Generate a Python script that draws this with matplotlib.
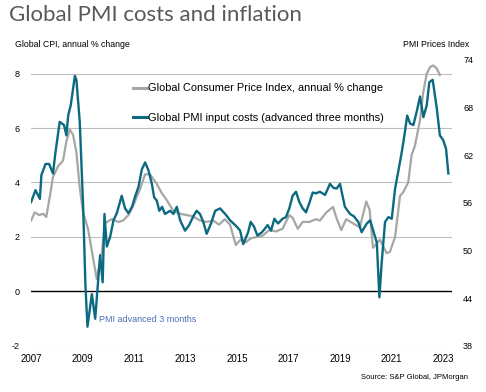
import matplotlib
matplotlib.use("Agg")
import matplotlib.pyplot as plt
from matplotlib.lines import Line2D

# ============================================================
# Data (dates as decimal years)
# ============================================================
cpi_dates = [2007.00, 2007.14, 2007.31, 2007.47, 2007.59, 2007.73, 2007.85, 2008.05,
             2008.24, 2008.37, 2008.50, 2008.63, 2008.76, 2008.89, 2009.02, 2009.21,
             2009.55, 2009.75, 2009.87, 2010.13, 2010.39, 2010.57, 2010.78, 2010.97,
             2011.23, 2011.43, 2011.62, 2011.88, 2012.08, 2012.27, 2012.53, 2012.79,
             2013.05, 2013.30, 2013.56, 2013.82, 2014.08, 2014.30, 2014.52, 2014.73,
             2014.95, 2015.14, 2015.34, 2015.54, 2015.79, 2016.00, 2016.25, 2016.51,
             2016.77, 2017.03, 2017.16, 2017.36, 2017.55, 2017.81, 2018.07, 2018.22,
             2018.47, 2018.73, 2018.86, 2019.05, 2019.24, 2019.50, 2019.77, 2020.02,
             2020.15, 2020.28, 2020.55, 2020.81, 2020.94, 2021.14, 2021.33, 2021.46,
             2021.65, 2021.78, 2021.91, 2022.11, 2022.23, 2022.37, 2022.50, 2022.62,
             2022.75, 2022.88]
cpi_values = [2.6, 2.9, 2.8, 2.85, 2.73, 3.5, 4.2, 4.6,
              4.8, 5.5, 5.95, 5.75, 5.1, 3.8, 2.9, 2.3,
              0.45, 1.45, 2.5, 2.65, 2.55, 2.6, 2.8, 3.15,
              3.75, 4.3, 4.3, 3.95, 3.6, 3.35, 2.95, 2.85,
              2.8, 2.75, 2.6, 2.55, 2.6, 2.45, 2.65, 2.45,
              1.7, 1.9, 1.8, 1.95, 2.0, 2.05, 2.25, 2.2,
              2.3, 2.8, 2.7, 2.3, 2.55, 2.55, 2.65, 2.6,
              2.9, 3.1, 2.7, 2.25, 2.65, 2.5, 2.35, 3.3,
              3.0, 1.6, 1.9, 1.4, 1.45, 2.0, 3.5, 3.65,
              4.0, 5.0, 5.35, 6.3, 7.3, 8.0, 8.24, 8.3,
              8.2, 7.95]

pmi_dates = [2007.00, 2007.17, 2007.34, 2007.40, 2007.56, 2007.70, 2007.85, 2007.94,
             2008.11, 2008.28, 2008.37, 2008.44, 2008.54, 2008.70, 2008.76, 2008.89,
             2009.02, 2009.11, 2009.19, 2009.36, 2009.49, 2009.68, 2009.78, 2009.85,
             2009.94, 2010.07, 2010.20, 2010.33, 2010.52, 2010.65, 2010.78, 2010.92,
             2011.04, 2011.17, 2011.30, 2011.43, 2011.56, 2011.69, 2011.78, 2011.88,
             2011.98, 2012.09, 2012.20, 2012.40, 2012.53, 2012.66, 2012.79, 2012.98,
             2013.14, 2013.30, 2013.43, 2013.56, 2013.69, 2013.82, 2013.99, 2014.15,
             2014.34, 2014.54, 2014.73, 2014.99, 2015.12, 2015.24, 2015.43, 2015.53,
             2015.66, 2015.79, 2015.97, 2016.19, 2016.32, 2016.45, 2016.59, 2016.77,
             2016.90, 2017.03, 2017.16, 2017.29, 2017.42, 2017.55, 2017.68, 2017.81,
             2017.94, 2018.07, 2018.22, 2018.42, 2018.61, 2018.74, 2018.87, 2019.00,
             2019.19, 2019.39, 2019.54, 2019.71, 2019.84, 2020.04, 2020.17, 2020.29,
             2020.43, 2020.53, 2020.62, 2020.75, 2020.88, 2021.01, 2021.14, 2021.26,
             2021.40, 2021.52, 2021.61, 2021.72, 2021.85, 2021.98, 2022.11, 2022.24,
             2022.37, 2022.47, 2022.60, 2022.76, 2022.88, 2023.01, 2023.12, 2023.21]
pmi_values = [56.1, 57.6, 56.5, 59.5, 60.9, 60.9, 59.7, 62.2,
              66.2, 65.8, 64.5, 67.0, 68.3, 72.0, 71.5, 66.2,
              55.7, 45.6, 40.4, 44.5, 41.4, 49.4, 46.0, 54.6,
              50.5, 51.7, 53.8, 54.7, 56.9, 55.3, 54.7, 55.5,
              56.8, 58.0, 60.2, 61.1, 60.1, 58.4, 56.7, 56.3,
              55.0, 55.5, 54.6, 55.0, 54.6, 55.5, 53.8, 52.5,
              53.2, 54.3, 55.0, 54.6, 53.6, 52.1, 53.4, 55.0,
              55.3, 54.6, 53.8, 53.0, 52.5, 50.8, 52.3, 53.6,
              53.0, 51.9, 52.3, 53.2, 52.5, 54.0, 53.4, 54.0,
              54.2, 55.3, 56.9, 57.4, 56.1, 55.3, 54.8, 56.0,
              57.3, 57.2, 57.4, 57.0, 58.4, 57.9, 57.8, 58.4,
              55.5, 54.6, 54.3, 53.6, 52.3, 53.4, 53.8, 52.5,
              51.0, 44.1, 48.5, 53.6, 54.2, 54.0, 57.8, 59.9,
              62.4, 64.9, 67.0, 66.0, 65.8, 67.5, 69.4, 66.8,
              68.3, 71.2, 71.5, 67.9, 64.5, 63.9, 62.8, 59.7]

x_ticks = [2007, 2009, 2011, 2013, 2015, 2017, 2019, 2021, 2023]
left_ticks = [-2, 0, 2, 4, 6, 8]
right_ticks = [38, 44, 50, 56, 62, 68, 74]

GREY = "#a6a6a6"
TEAL = "#0b6a80"

plt.rcParams["font.family"] = ["Liberation Sans", "DejaVu Sans"]

fig = plt.figure(figsize=(4.86, 3.92), dpi=100)
ax = fig.add_axes([0.064, 0.118, 0.866, 0.729])
ax2 = ax.twinx()

# CPI on left axis, PMI on right axis (drawn on top)
ax.plot(cpi_dates, cpi_values, color=GREY, linewidth=1.6, solid_joinstyle="round")
ax2.plot(pmi_dates, pmi_values, color=TEAL, linewidth=1.7, solid_joinstyle="round")

ax.set_xlim(2007, 2023.35)
ax.set_ylim(-2, 8.5)
ax2.set_ylim(38, 74)

ax.set_xticks(x_ticks)
ax.set_xticklabels([str(t) for t in x_ticks], fontsize=7)
ax.set_yticks(left_ticks)
ax.set_yticklabels([str(t) for t in left_ticks], fontsize=6.5)
ax2.set_yticks(right_ticks)
ax2.set_yticklabels([str(t) for t in right_ticks], fontsize=6.5)
ax.tick_params(axis="both", length=0, pad=6)
ax.tick_params(axis="y", pad=8)
ax2.tick_params(axis="y", length=0, pad=8)

# gridlines and zero line
for v in left_ticks:
    if v == 0:
        ax.axhline(v, color="black", linewidth=1.0, zorder=1)
    else:
        ax.axhline(v, color="#bfbfbf", linewidth=0.8, zorder=0)

for a in (ax, ax2):
    for s in a.spines.values():
        s.set_visible(False)

# legend inside plot, no frame
handles = [Line2D([], [], color=GREY, linewidth=2.2),
           Line2D([], [], color=TEAL, linewidth=2.2)]
labels = ["Global Consumer Price Index, annual % change",
          "Global PMI input costs (advanced three months)"]
ax.legend(handles, labels, loc="upper left", bbox_to_anchor=(0.242, 0.918),
          frameon=False, fontsize=7.9, handlelength=1.3, handletextpad=0.1,
          labelspacing=1.75, borderpad=0, borderaxespad=0)

ax.text(2009.65, -1.05, "PMI advanced 3 months", color="#4a6fb5", fontsize=6.5,
        va="center", ha="left")

fig.text(0.018, 0.962, "Global PMI costs and inflation", fontsize=16,
         color="#595959", family=["Lato", "DejaVu Sans"], va="center")
fig.text(0.031, 0.887, "Global CPI, annual % change", fontsize=6.3, va="center")
fig.text(0.965, 0.887, "PMI Prices Index", fontsize=6.3, va="center", ha="right")
fig.text(0.963, 0.038, "Source: S&P Global, JPMorgan", fontsize=5.5,
         va="center", ha="right")

fig.savefig("out.png", dpi=100)
